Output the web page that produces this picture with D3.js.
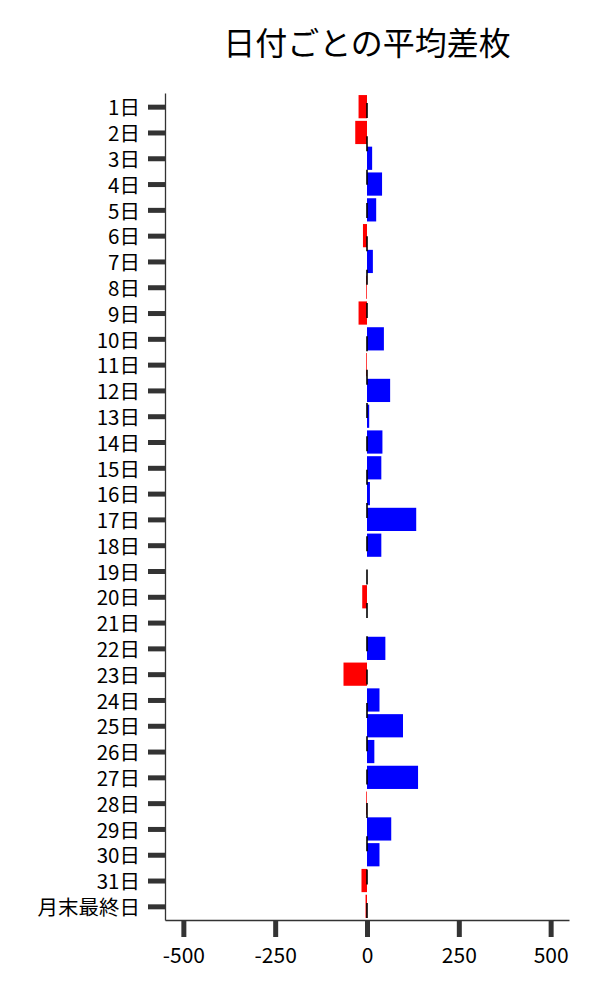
<!DOCTYPE html>
<html><head><meta charset="utf-8">
<script src="https://cdn.jsdelivr.net/npm/d3@7"></script>
<style>body{margin:0;background:#fff;} svg{display:block;}</style>
</head><body>
<script>
const title = "日付ごとの平均差枚";
const categories = ["1日","2日","3日","4日","5日","6日","7日","8日","9日","10日","11日","12日","13日","14日","15日","16日","17日","18日","19日","20日","21日","22日","23日","24日","25日","26日","27日","28日","29日","30日","31日","月末最終日"];
const values = [-23,-32,14,41,25,-11,16,-2,-23,46,-2,63,6,42,39,8,134,39,0,-13,0,50,-64,34,98,20,139,-2,66,34,-15,-4];
const xTicks = [-500,-250,0,250,500];
const xDomain = [-550,550];

const W = 600, H = 1000;
const m = {left:165, right:31, top:93, bottom:80};
const font = "'Noto Sans CJK JP','Noto Sans',sans-serif";

const svg = d3.select("body").append("svg").attr("width",W).attr("height",H);

const x = d3.scaleLinear().domain(xDomain).range([m.left, W-m.right]);
const y = d3.scalePoint().domain(categories).range([m.top, H-m.bottom]).padding(0.53);
const bh = y.step()*0.9;

svg.append("text").attr("x",(m.left+W-m.right)/2).attr("y",55)
  .attr("text-anchor","middle").attr("font-family",font).attr("font-size",32)
  .attr("fill","#000").text(title);

svg.append("g").selectAll("rect").data(categories).join("rect")
  .attr("x",(d,i)=>x(Math.min(0,values[i])))
  .attr("width",(d,i)=>Math.abs(x(values[i])-x(0)))
  .attr("y",d=>y(d)-bh/2).attr("height",bh)
  .attr("fill",(d,i)=>values[i]<0?"#ff0000":"#0000ff");

// dashed zero line
svg.append("line").attr("x1",x(0)).attr("x2",x(0))
  .attr("y1",m.top).attr("y2",H-m.bottom)
  .attr("stroke","#000").attr("stroke-width",1.6)
  .attr("stroke-dasharray","15,18.33").attr("stroke-dashoffset",23.33);

// y axis
const yAxis = svg.append("g").attr("transform",`translate(${m.left},0)`)
  .call(d3.axisLeft(y).tickSize(17).tickSizeOuter(0).tickPadding(8));
yAxis.select(".domain").attr("stroke","#333").attr("stroke-width",1.3);
yAxis.selectAll(".tick line").attr("stroke","#333").attr("stroke-width",5);
yAxis.selectAll(".tick text").attr("font-family",font).attr("font-size",20.5)
  .attr("dy","0.4em").attr("fill","#000");

// x axis
const xAxis = svg.append("g").attr("transform",`translate(0,${H-m.bottom})`)
  .call(d3.axisBottom(x).tickValues(xTicks).tickFormat(d=>String(d)).tickSize(17).tickSizeOuter(0).tickPadding(11));
xAxis.select(".domain").attr("stroke","#333").attr("stroke-width",1.3);
xAxis.selectAll(".tick line").attr("stroke","#333").attr("stroke-width",5);
xAxis.selectAll(".tick text").attr("font-family",font).attr("font-size",21).attr("fill","#000");
</script>
</body></html>
